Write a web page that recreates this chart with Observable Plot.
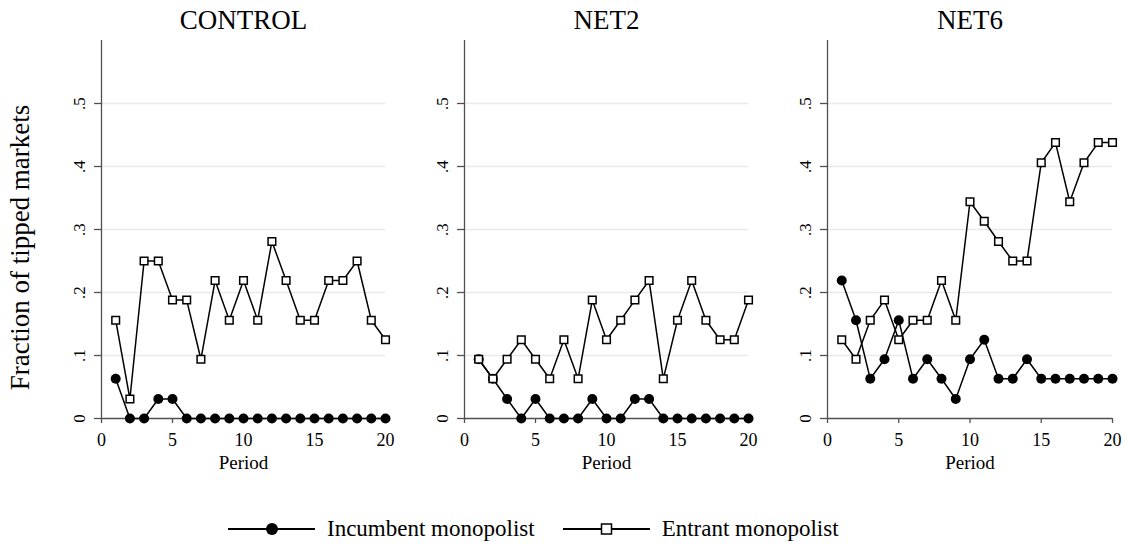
<!DOCTYPE html>
<html>
<head>
<meta charset="utf-8">
<script src="https://cdn.jsdelivr.net/npm/d3@7"></script>
<script src="https://cdn.jsdelivr.net/npm/@observablehq/plot@0.6"></script>
<style>
  body { margin: 0; background: #fff; }
  #wrap { position: relative; width: 1127px; height: 548px; background: #fff; overflow: hidden;
          font-family: "Liberation Serif", "Times New Roman", serif; }
  .panel { position: absolute; top: 0; }
  .panel text { font-family: "Liberation Serif", "Times New Roman", serif; }
  #legend { position: absolute; left: 228px; top: 516px; display: flex; align-items: center;
            font-family: "Liberation Serif", "Times New Roman", serif;
            font-size: 23px; color: #000; white-space: nowrap; }
  #legend .item { display: flex; align-items: center; }
  #legend .item + .item { margin-left: 28px; }
  #legend .lab { margin-left: 12px; }
</style>
</head>
<body>
<div id="wrap"></div>
<script>
// ---- data ----
const periods = [1,2,3,4,5,6,7,8,9,10,11,12,13,14,15,16,17,18,19,20];
const panelTitles = ["CONTROL", "NET2", "NET6"];
const seriesNames = ["Incumbent monopolist", "Entrant monopolist"];

const controlIncumbent = [0.063,0,0,0.031,0.031,0,0,0,0,0,0,0,0,0,0,0,0,0,0,0];
const controlEntrant   = [0.156,0.031,0.25,0.25,0.188,0.188,0.094,0.219,0.156,0.219,0.156,0.281,0.219,0.156,0.156,0.219,0.219,0.25,0.156,0.125];
const net2Incumbent    = [0.094,0.063,0.031,0,0.031,0,0,0,0.031,0,0,0.031,0.031,0,0,0,0,0,0,0];
const net2Entrant      = [0.094,0.063,0.094,0.125,0.094,0.063,0.125,0.063,0.188,0.125,0.156,0.188,0.219,0.063,0.156,0.219,0.156,0.125,0.125,0.188];
const net6Incumbent    = [0.219,0.156,0.063,0.094,0.156,0.063,0.094,0.063,0.031,0.094,0.125,0.063,0.063,0.094,0.063,0.063,0.063,0.063,0.063,0.063];
const net6Entrant      = [0.125,0.094,0.156,0.188,0.125,0.156,0.156,0.219,0.156,0.344,0.313,0.281,0.25,0.25,0.406,0.438,0.344,0.406,0.438,0.438];

const xTicks = [0,5,10,15,20];
const yTicks = [0,0.1,0.2,0.3,0.4,0.5];
const yTickLabels = ["0",".1",".2",".3",".4",".5"];
const yGrid = [0.1,0.2,0.3,0.4,0.5];

// ---- layout ----
const FONT = '"Liberation Serif", "Times New Roman", serif';
const axisColor = "#505050";
const gridColor = "#e9e9e9";
const panels = [
  {title: panelTitles[0], inc: controlIncumbent, ent: controlEntrant, left: 0,   mL: 101, mR: 14, plotW: 284, ytitle: true},
  {title: panelTitles[1], inc: net2Incumbent,    ent: net2Entrant,    left: 404, mL: 60,  mR: 14, plotW: 284},
  {title: panelTitles[2], inc: net6Incumbent,    ent: net6Entrant,    left: 767, mL: 60,  mR: 15, plotW: 285}
];

const wrap = document.getElementById("wrap");

for (const p of panels) {
  const incData = periods.map((x, i) => ({x, y: p.inc[i]}));
  const entData = periods.map((x, i) => ({x, y: p.ent[i]}));
  const marks = [
    Plot.ruleY(yGrid, {x1: 0, x2: 20, stroke: gridColor, strokeWidth: 1.4}),
    Plot.ruleX([0], {y1: 0, y2: 0.6, stroke: axisColor, strokeWidth: 1.3}),
    Plot.ruleY([0], {x1: 0, x2: 20, stroke: axisColor, strokeWidth: 1.3}),
    Plot.axisX({ticks: xTicks, tickSize: 5, tickPadding: 10, fontSize: 18, fontFamily: FONT, label: null,
                stroke: axisColor, strokeWidth: 1.3, fill: "#000", tickFormat: d => String(d)}),
    Plot.axisY({ticks: yTicks, tickSize: 7, tickPadding: 10, tickRotate: -90, fontSize: 17, fontFamily: FONT, label: null,
                stroke: axisColor, strokeWidth: 1.3, fill: "#000",
                tickFormat: d => yTickLabels[yTicks.indexOf(d)]}),
    Plot.text([p.title], {frameAnchor: "top", lineAnchor: "bottom", dy: -12, fontSize: 27, fontFamily: FONT, fill: "#000"}),
    Plot.text(["Period"], {frameAnchor: "bottom", lineAnchor: "bottom", dy: 50, fontSize: 19, fontFamily: FONT, fill: "#000"}),
    Plot.line(incData, {x: "x", y: "y", stroke: "#000", strokeWidth: 1.5}),
    Plot.dot(incData, {x: "x", y: "y", r: 5, fill: "#000", stroke: "none"}),
    Plot.line(entData, {x: "x", y: "y", stroke: "#000", strokeWidth: 1.5}),
    Plot.dot(entData, {x: "x", y: "y", symbol: "square", r: 4.3, fill: "#fff", stroke: "#000", strokeWidth: 1.5})
  ];
  if (p.ytitle) {
    marks.push(Plot.text(["Fraction of tipped markets"], {frameAnchor: "left", textAnchor: "middle", lineAnchor: "bottom",
      rotate: -90, dx: -73, dy: 18, fontSize: 27, fontFamily: FONT, fill: "#000"}));
  }
  const chart = Plot.plot({
    width: p.mL + p.plotW + p.mR,
    height: 480,
    marginLeft: p.mL,
    marginRight: p.mR,
    marginTop: 40,
    marginBottom: 62,
    x: {domain: [0, 20]},
    y: {domain: [0, 0.6]},
    style: {fontFamily: FONT, background: "#fff", color: "#000", overflow: "visible"},
    marks
  });
  chart.classList.add("panel");
  chart.style.left = p.left + "px";
  wrap.appendChild(chart);
}

// ---- legend ----
const legend = document.createElement("div");
legend.id = "legend";
const ns = "http://www.w3.org/2000/svg";
seriesNames.forEach((name, i) => {
  const item = document.createElement("div");
  item.className = "item";
  const svg = document.createElementNS(ns, "svg");
  svg.setAttribute("width", 87); svg.setAttribute("height", 16);
  const ln = document.createElementNS(ns, "line");
  ln.setAttribute("x1", 0); ln.setAttribute("x2", 87); ln.setAttribute("y1", 8); ln.setAttribute("y2", 8);
  ln.setAttribute("stroke", "#000"); ln.setAttribute("stroke-width", 2);
  svg.appendChild(ln);
  if (i === 0) {
    const c = document.createElementNS(ns, "circle");
    c.setAttribute("cx", 44); c.setAttribute("cy", 8); c.setAttribute("r", 6); c.setAttribute("fill", "#000");
    svg.appendChild(c);
  } else {
    const r = document.createElementNS(ns, "rect");
    r.setAttribute("x", 38.5); r.setAttribute("y", 3); r.setAttribute("width", 10); r.setAttribute("height", 10);
    r.setAttribute("fill", "#fff"); r.setAttribute("stroke", "#000"); r.setAttribute("stroke-width", 1.5);
    svg.appendChild(r);
  }
  item.appendChild(svg);
  const lab = document.createElement("span");
  lab.className = "lab";
  lab.textContent = name;
  item.appendChild(lab);
  legend.appendChild(item);
});
wrap.appendChild(legend);
</script>
</body>
</html>
